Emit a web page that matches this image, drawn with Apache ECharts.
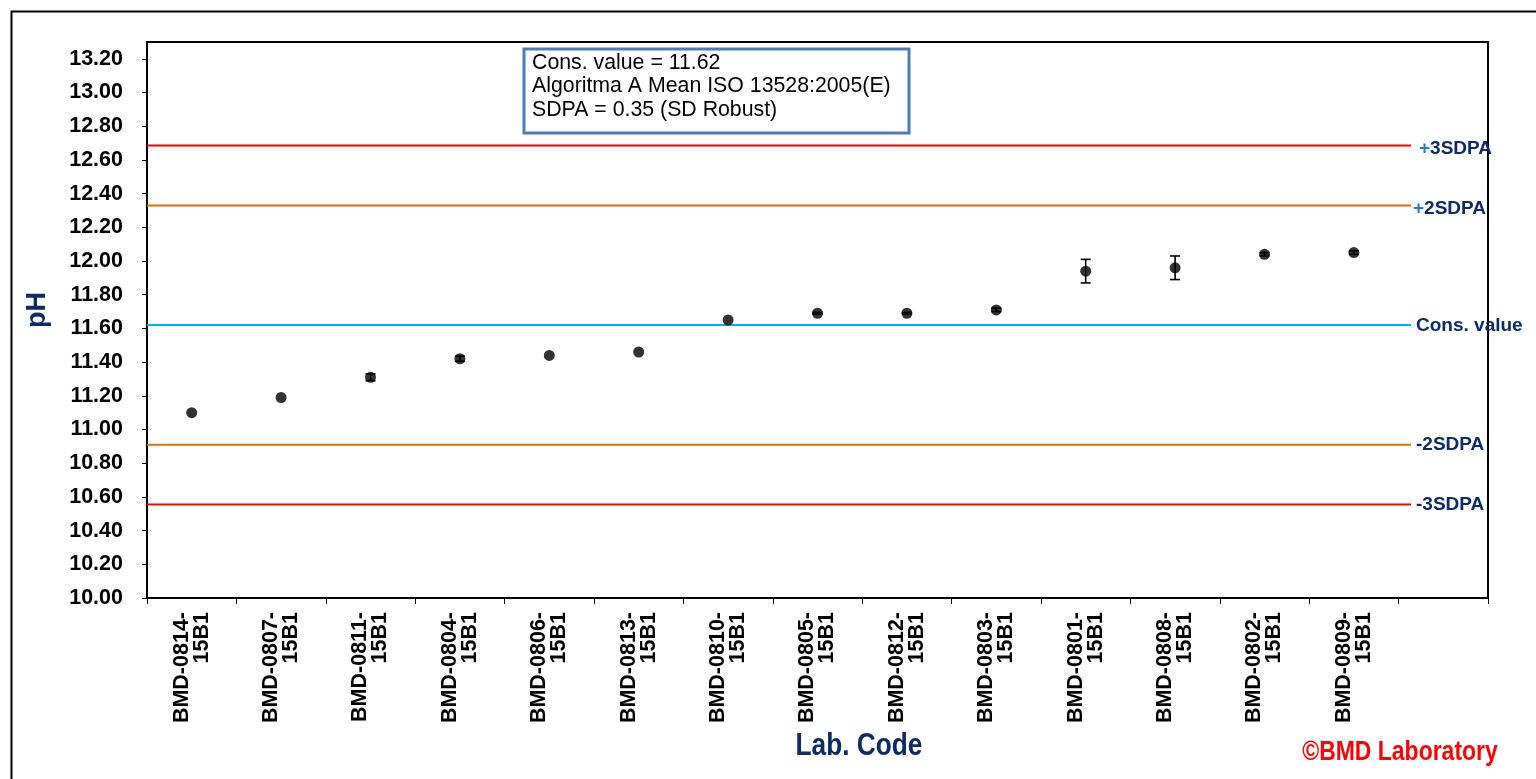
<!DOCTYPE html>
<html>
<head>
<meta charset="utf-8">
<script src="https://cdn.jsdelivr.net/npm/echarts@6/dist/echarts.min.js"></script>
<style>
html,body{margin:0;padding:0;background:#fff;}
#chart{width:1536px;height:779px;}
</style>
</head>
<body>
<div id="chart"></div>
<script>
// ---- data ----
const labCodes = ['BMD-0814-15B1','BMD-0807-15B1','BMD-0811-15B1','BMD-0804-15B1','BMD-0806-15B1','BMD-0813-15B1','BMD-0810-15B1','BMD-0805-15B1','BMD-0812-15B1','BMD-0803-15B1','BMD-0801-15B1','BMD-0808-15B1','BMD-0802-15B1','BMD-0809-15B1',''];
const phValues = [11.10, 11.19, 11.31, 11.42, 11.44, 11.46, 11.65, 11.69, 11.69, 11.71, 11.94, 11.96, 12.04, 12.05];
const phErrors = [0, 0, 0.02, 0.015, 0, 0, 0, 0.005, 0.005, 0.01, 0.07, 0.07, 0.01, 0.01];
const refNames = ['+3SDPA', '+2SDPA', 'Cons. value', '-2SDPA', '-3SDPA'];
const refValues = [12.685, 12.33, 11.62, 10.91, 10.555];
const refColors = ['#ff0000', '#e46c0a', '#00b0f0', '#e46c0a', '#ff0000'];
const infoLines = ['Cons. value = 11.62', 'Algoritma A Mean ISO 13528:2005(E)', 'SDPA = 0.35 (SD Robust)'];
const yMin = 10.0, yMax = 13.3, yStep = 0.2;

const navy = '#0f2a66';
const font = "'Liberation Sans', Arial, sans-serif";
const labelGap = [8, 2, 5, 5, 5];
const labelDy = [3, 3, 1, 0, 0];

const chart = echarts.init(document.getElementById('chart'), null, {renderer: 'canvas'});

const refSeries = refNames.map((name, i) => ({
  type: 'line',
  name: name,
  xAxisIndex: 1,
  yAxisIndex: 0,
  data: [[0, refValues[i]], [0.9426, refValues[i]]],
  symbol: 'none',
  silent: true,
  z: 2,
  lineStyle: {color: refColors[i], width: 2},
  endLabel: {
    show: true,
    distance: labelGap[i],
    offset: [0, labelDy[i]],
    formatter: () => name.charAt(0) === '+' ? '{p|+}' + name.slice(1) : name,
    color: navy,
    fontWeight: 'bold',
    fontSize: 19,
    fontFamily: font,
    rich: {p: {color: '#2e78c8', fontWeight: 'bold', fontSize: 19, fontFamily: font}}
  }
}));

const option = {
  animation: false,
  backgroundColor: '#fff',
  grid: {left: 147, top: 42, right: 48, bottom: 181, show: true, borderColor: '#000', borderWidth: 2, containLabel: false},
  xAxis: [{
    type: 'category',
    data: labCodes,
    boundaryGap: true,
    axisLine: {lineStyle: {color: '#000', width: 2}},
    axisTick: {show: true, length: 6, inside: false, lineStyle: {color: '#000', width: 1}},
    axisLabel: {
      interval: 0,
      rotate: 90,
      margin: 14,
      color: '#000',
      fontWeight: 'bold',
      fontSize: 21.5,
      fontFamily: font,
      lineHeight: 20,
      formatter: s => s.replace(/^(BMD-\d+-)/, '$1\n')
    },
    splitLine: {show: false}
  }, {
    type: 'value',
    min: 0,
    max: 1,
    show: false
  }],
  yAxis: {
    type: 'value',
    min: yMin,
    max: yMax,
    interval: yStep,
    axisLine: {show: true, lineStyle: {color: '#000', width: 2}},
    axisTick: {show: true, length: 5, lineStyle: {color: '#000', width: 1}},
    axisLabel: {
      showMaxLabel: false,
      margin: 24,
      color: '#000',
      fontWeight: 'bold',
      fontSize: 21.5,
      fontFamily: font,
      formatter: v => (Math.abs(v - yMax) < 1e-6) ? '' : v.toFixed(2)
    },
    splitLine: {show: false}
  },
  series: refSeries.concat([
    {
      type: 'custom',
      name: 'err',
      xAxisIndex: 0,
      z: 4,
      silent: true,
      data: phValues.map((v, i) => [i, v - phErrors[i], v + phErrors[i]]),
      renderItem: function (params, api) {
        const lo = api.coord([api.value(0), api.value(1)]);
        const hi = api.coord([api.value(0), api.value(2)]);
        if (Math.abs(lo[1] - hi[1]) < 0.5) return null;
        const cw = 5;
        const st = {stroke: '#000', lineWidth: 1.6};
        return {
          type: 'group',
          children: [
            {type: 'line', shape: {x1: lo[0], y1: lo[1], x2: hi[0], y2: hi[1]}, style: st},
            {type: 'line', shape: {x1: lo[0] - cw, y1: lo[1], x2: lo[0] + cw, y2: lo[1]}, style: st},
            {type: 'line', shape: {x1: hi[0] - cw, y1: hi[1], x2: hi[0] + cw, y2: hi[1]}, style: st}
          ]
        };
      }
    },
    {
      type: 'scatter',
      name: 'pH',
      xAxisIndex: 0,
      z: 5,
      data: phValues,
      symbol: 'circle',
      symbolSize: 11,
      itemStyle: {color: '#000'}
    }
  ]),
  graphic: [
    {type: 'rect', left: 9, top: 9, shape: {x: 0, y: 0, width: 1600, height: 850}, style: {fill: 'none', stroke: '#000', lineWidth: 2}, z: 100, silent: true},
    {type: 'rect', shape: {x: 524, y: 49, width: 385, height: 84}, style: {fill: '#fff', stroke: '#4a7ebb', lineWidth: 3}, z: 50},
    {type: 'text', x: 532, y: 51, z: 51, style: {text: infoLines.join('\n'), font: "21.3px 'Liberation Sans', Arial, sans-serif", lineHeight: 23.5, fill: '#000'}},
    {type: 'text', x: 38, y: 310, rotation: Math.PI / 2, z: 51, style: {text: 'pH', font: "bold 27px 'Liberation Sans', Arial, sans-serif", fill: navy, align: 'center', verticalAlign: 'middle'}},
    {type: 'text', x: 859, y: 746, scaleX: 0.82, z: 51, style: {text: 'Lab. Code', font: "bold 32px 'Liberation Sans', Arial, sans-serif", fill: navy, align: 'center', verticalAlign: 'middle'}},
    {type: 'text', x: 1400, y: 752, scaleX: 0.82, z: 51, style: {text: '\u00A9BMD Laboratory', font: "bold 28px 'Liberation Sans', Arial, sans-serif", fill: '#ff0000', align: 'center', verticalAlign: 'middle'}}
  ]
};
chart.setOption(option);
</script>
</body>
</html>
